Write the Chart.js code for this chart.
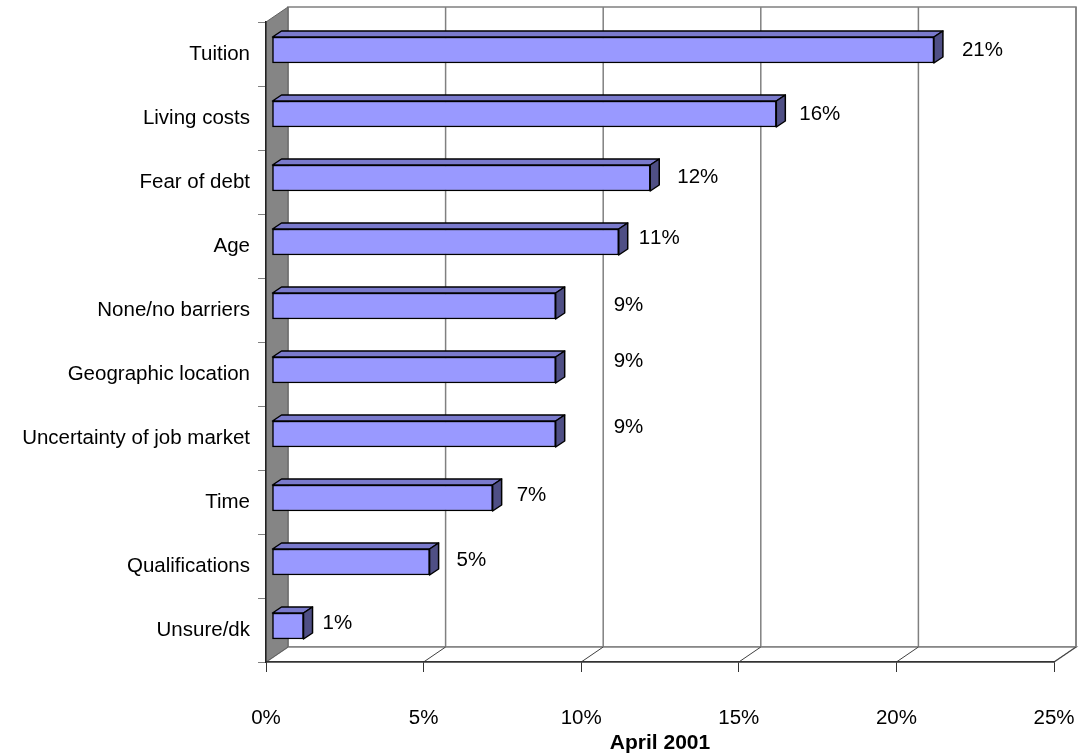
<!DOCTYPE html>
<html>
<head>
<meta charset="utf-8">
<title>Barriers</title>
<script src="https://cdn.jsdelivr.net/npm/chart.js"></script>
<style>
    html, body { margin: 0; padding: 0; background: #fff; }
    #contenedor { width: 1080px; height: 756px; }
</style>
</head>
<body>
<div id="contenedor"><canvas id="barreras"></canvas></div>
<script>
const categorias = [
    "Tuition",
    "Living costs",
    "Fear of debt",
    "Age",
    "None/no barriers",
    "Geographic location",
    "Uncertainty of job market",
    "Time",
    "Qualifications",
    "Unsure/dk",
];
const porcentajes = [21, 16, 12, 11, 9, 9, 9, 7, 5, 1];
const ticksX = [0, 5, 10, 15, 20, 25];
const tituloX = "April 2001";

// desplazamiento de cada etiqueta respecto al final de la barra (px)
const desplEtiquetas = [
    [28, 0], [23, 0], [27, -1], [20, -4], [58, -1],
    [58, -9], [58, -7], [24, -3], [27, -2], [19, -3],
];

const FONDO = { dx: 22, dy: -15 };        // profundidad de las paredes
const BARRA = { x: 6, y: -4, dx: 9, dy: -6 }; // posicion y profundidad de las barras

Chart.defaults.font.family = "'Liberation Sans', Arial, sans-serif";
Chart.defaults.font.size = 20.5;
Chart.defaults.color = "#000";

function poligono(ctx, puntos, relleno, borde, ancho) {
    ctx.beginPath();
    ctx.moveTo(puntos[0][0], puntos[0][1]);
    for (let i = 1; i < puntos.length; i++) ctx.lineTo(puntos[i][0], puntos[i][1]);
    ctx.closePath();
    if (relleno) {
        ctx.fillStyle = relleno;
        ctx.fill();
    }
    if (borde) {
        ctx.strokeStyle = borde;
        ctx.lineWidth = ancho || 1;
        ctx.stroke();
    }
}

const fondo3d = {
    id: "fondo3d",
    beforeDraw(chart) {
        const { ctx, chartArea: a, scales: { x } } = chart;
        const x0 = x.getPixelForValue(ticksX[0]);
        const x1 = x.getPixelForValue(ticksX[ticksX.length - 1]);
        const { dx, dy } = FONDO;
        ctx.save();
        // pared del fondo
        poligono(ctx, [[x0 + dx, a.top + dy], [x1 + dx, a.top + dy], [x1 + dx, a.bottom + dy], [x0 + dx, a.bottom + dy]], "#fff", "#808080", 1.5);
        // piso
        poligono(ctx, [[x0, a.bottom], [x0 + dx, a.bottom + dy], [x1 + dx, a.bottom + dy], [x1, a.bottom]], "#fff", "#808080", 1.5);
        // lineas de la grilla
        ticksX.slice(1).forEach((v) => {
            const px = x.getPixelForValue(v);
            ctx.beginPath();
            ctx.moveTo(px + dx, a.top + dy);
            ctx.lineTo(px + dx, a.bottom + dy);
            ctx.strokeStyle = "#808080";
            ctx.lineWidth = 1.5;
            ctx.stroke();
            ctx.beginPath();
            ctx.moveTo(px, a.bottom);
            ctx.lineTo(px + dx, a.bottom + dy);
            ctx.strokeStyle = "#404040";
            ctx.lineWidth = 1;
            ctx.stroke();
        });
        // pared izquierda
        poligono(ctx, [[x0, a.top], [x0 + dx, a.top + dy], [x0 + dx, a.bottom + dy], [x0, a.bottom]], "#858585", "#606060", 1);
        ctx.restore();
    },
};

const barras3d = {
    id: "barras3d",
    beforeDatasetsDraw(chart) {
        chart.ctx.save();
        chart.ctx.translate(BARRA.x, BARRA.y);
    },
    afterDatasetsDraw(chart) {
        const ctx = chart.ctx;
        const { dx, dy } = BARRA;
        chart.getDatasetMeta(0).data.forEach((bar, i) => {
            const { x, y, base, height } = bar.getProps(["x", "y", "base", "height"], true);
            const arriba = y - height / 2;
            const abajo = y + height / 2;
            ctx.lineJoin = "round";
            poligono(ctx, [[base, arriba], [base + dx, arriba + dy], [x + dx, arriba + dy], [x, arriba]], "#7a7acc", "#000", 1.5);
            poligono(ctx, [[x, arriba], [x + dx, arriba + dy], [x + dx, abajo + dy], [x, abajo]], "#4f4f85", "#000", 1.5);
            // etiqueta
            ctx.fillStyle = "#000";
            ctx.font = "20.5px 'Liberation Sans', Arial, sans-serif";
            ctx.fontKerning = "none";
            ctx.textAlign = "left";
            ctx.textBaseline = "middle";
            ctx.fillText(porcentajes[i] + "%", x + desplEtiquetas[i][0], y + desplEtiquetas[i][1]);
        });
        ctx.restore();
    },
};

const ctxBarreras = document.getElementById("barreras").getContext("2d");

const data = {
    labels: categorias,
    datasets: [
        {
            label: tituloX,
            data: porcentajes,
            backgroundColor: "#9999ff",
            borderColor: "#000",
            borderWidth: 1.5,
            borderSkipped: false,
            barThickness: 26,
        },
    ],
};

const options = {
    indexAxis: "y",
    responsive: true,
    maintainAspectRatio: false,
    animation: false,
    layout: {
        padding: { top: 22, right: 26, left: 0, bottom: 0 },
    },
    scales: {
        x: {
            type: "linear",
            min: ticksX[0],
            max: ticksX[ticksX.length - 1],
            afterBuildTicks: (scale) => {
                scale.ticks = ticksX.map((v) => ({ value: v }));
            },
            ticks: {
                callback: (v) => v + "%",
                padding: 34,
                maxRotation: 0,
                autoSkip: false,
            },
            grid: {
                drawOnChartArea: false,
                tickLength: 10,
                color: "#333",
            },
            border: { color: "#333", width: 1.5 },
            title: {
                display: true,
                text: tituloX,
                font: { weight: "bold", size: 21 },
                padding: { top: 0, bottom: 0 },
            },
            afterFit: (scale) => {
                scale.height = 94;
                scale.paddingLeft = 0;
                scale.paddingRight = 0;
            },
        },
        y: {
            type: "category",
            ticks: { padding: 8, autoSkip: false },
            grid: {
                drawOnChartArea: false,
                tickLength: 8,
                color: "#808080",
                offset: true,
            },
            border: { color: "#222", width: 1.5 },
            afterFit: (scale) => {
                scale.width = 266;
                scale.paddingTop = 0;
                scale.paddingBottom = 0;
            },
        },
    },
    plugins: {
        legend: { display: false },
        tooltip: { enabled: false },
    },
};

new Chart(ctxBarreras, {
    type: "bar",
    data: data,
    options: options,
    plugins: [fondo3d, barras3d],
});
</script>
</body>
</html>
